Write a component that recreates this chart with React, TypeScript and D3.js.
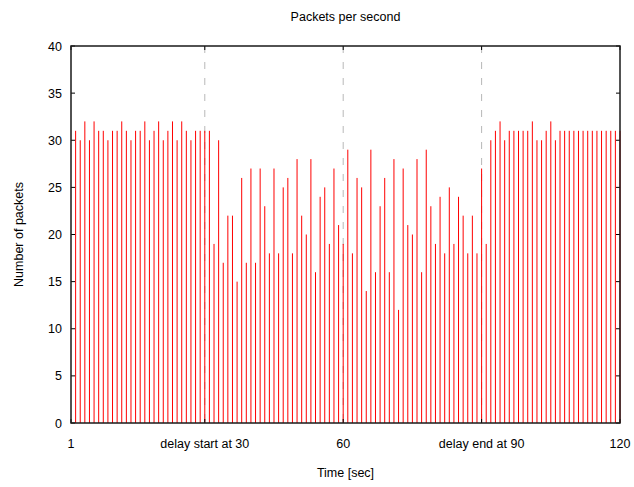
import * as d3 from "d3";
import { useEffect, useRef } from "react";

// packets per second, seconds 2..120 (second 1 sits on the left axis and shows nothing)
const firstSecond = 2;
const packets = [
  31, 30, 32, 30, 32, 31, 31, 30, 31, 31, 32, 31, 30, 31, 31, 32, 30, 31, 32, 30, 31, 32, 30, 32, 31, 30, 31, 31, 31, 31,
  19, 30, 17, 22, 22, 15, 26, 17, 27, 17, 27, 23, 18, 27, 18, 25, 26, 18, 28, 22, 20, 28, 16, 24, 25, 19, 27, 21, 19, 29,
  18, 26, 25, 14, 29, 16, 23, 26, 16, 28, 12, 27, 21, 20, 28, 16, 29, 23, 19, 24, 18, 25, 19, 24, 22, 18, 22, 18, 27, 19,
  30, 31, 32, 30, 31, 31, 31, 31, 31, 32, 30, 30, 31, 32, 30, 31,
  31, 31, 31, 31, 31, 31, 31, 31, 31, 31, 31, 31, 31,
];

const xTicks = [1, 30, 60, 90, 120];
const xTickLabels = ["1", "delay start at 30", "60", "delay end at 90", "120"];
const markers = [30, 60, 90];
const yTicks = [0, 5, 10, 15, 20, 25, 30, 35, 40];

const W = 634;
const H = 487;
const FONT = '"Liberation Sans", Arial, sans-serif';

export default function App() {
  const ref = useRef<SVGSVGElement | null>(null);

  useEffect(() => {
    if (!ref.current) return;
    const margin = { top: 46, right: 14, bottom: 64, left: 71 };
    const innerW = W - margin.left - margin.right;
    const innerH = H - margin.top - margin.bottom;

    const data = packets.map((v, i) => ({ sec: firstSecond + i, v }));

    const x = d3.scaleLinear().domain([1, 120]).range([0, innerW]);
    const y = d3.scaleLinear().domain([0, 40]).range([innerH, 0]);

    const svg = d3.select(ref.current);
    svg.selectAll("*").remove();
    svg.style("font-family", FONT).style("font-size", "12.5px");

    svg
      .append("text")
      .attr("x", margin.left + innerW / 2)
      .attr("y", 21)
      .attr("text-anchor", "middle")
      .text("Packets per second");

    svg
      .append("text")
      .attr("transform", `translate(22.5,${margin.top + innerH / 2}) rotate(-90)`)
      .attr("text-anchor", "middle")
      .text("Number of packets");

    svg
      .append("text")
      .attr("x", margin.left + innerW / 2)
      .attr("y", 477)
      .attr("text-anchor", "middle")
      .text("Time [sec]");

    const g = svg.append("g").attr("transform", `translate(${margin.left},${margin.top})`);

    // dashed markers at delay start / middle / end
    g.selectAll("line.marker")
      .data(markers)
      .join("line")
      .attr("class", "marker")
      .attr("x1", (d) => x(d))
      .attr("x2", (d) => x(d))
      .attr("y1", 0)
      .attr("y2", innerH)
      .attr("stroke", "#b8b8b8")
      .attr("stroke-width", 1)
      .attr("stroke-dasharray", "7,9");

    // impulses
    g.selectAll("line.imp")
      .data(data)
      .join("line")
      .attr("class", "imp")
      .attr("x1", (d) => x(d.sec))
      .attr("x2", (d) => x(d.sec))
      .attr("y1", innerH)
      .attr("y2", (d) => y(d.v))
      .attr("stroke", "#ff0000")
      .attr("stroke-width", 1);

    // y ticks, both sides inward
    const yt = g.append("g");
    yTicks.forEach((t) => {
      yt.append("line").attr("x1", 0).attr("x2", 4).attr("y1", y(t)).attr("y2", y(t)).attr("stroke", "#000");
      yt.append("line").attr("x1", innerW - 4).attr("x2", innerW).attr("y1", y(t)).attr("y2", y(t)).attr("stroke", "#000");
      yt.append("text")
        .attr("x", -9)
        .attr("y", y(t) + 4.5)
        .attr("text-anchor", "end")
        .text(String(t));
    });

    // x ticks, top and bottom inward
    const xt = g.append("g");
    xTicks.forEach((t, i) => {
      xt.append("line").attr("x1", x(t)).attr("x2", x(t)).attr("y1", 0).attr("y2", 4).attr("stroke", "#000");
      xt.append("line").attr("x1", x(t)).attr("x2", x(t)).attr("y1", innerH - 4).attr("y2", innerH).attr("stroke", "#000");
      xt.append("text")
        .attr("x", x(t))
        .attr("y", innerH + 25)
        .attr("text-anchor", "middle")
        .text(xTickLabels[i]);
    });

    g.append("rect")
      .attr("x", 0)
      .attr("y", 0)
      .attr("width", innerW)
      .attr("height", innerH)
      .attr("fill", "none")
      .attr("stroke", "#1a1a1a")
      .attr("stroke-width", 1.5);
  }, []);

  return (
    <svg
      ref={ref}
      width={W}
      height={H}
      style={{ position: "absolute", left: 0, top: 0, background: "#fff" }}
      role="img"
      aria-label="Packets per second"
    />
  );
}
